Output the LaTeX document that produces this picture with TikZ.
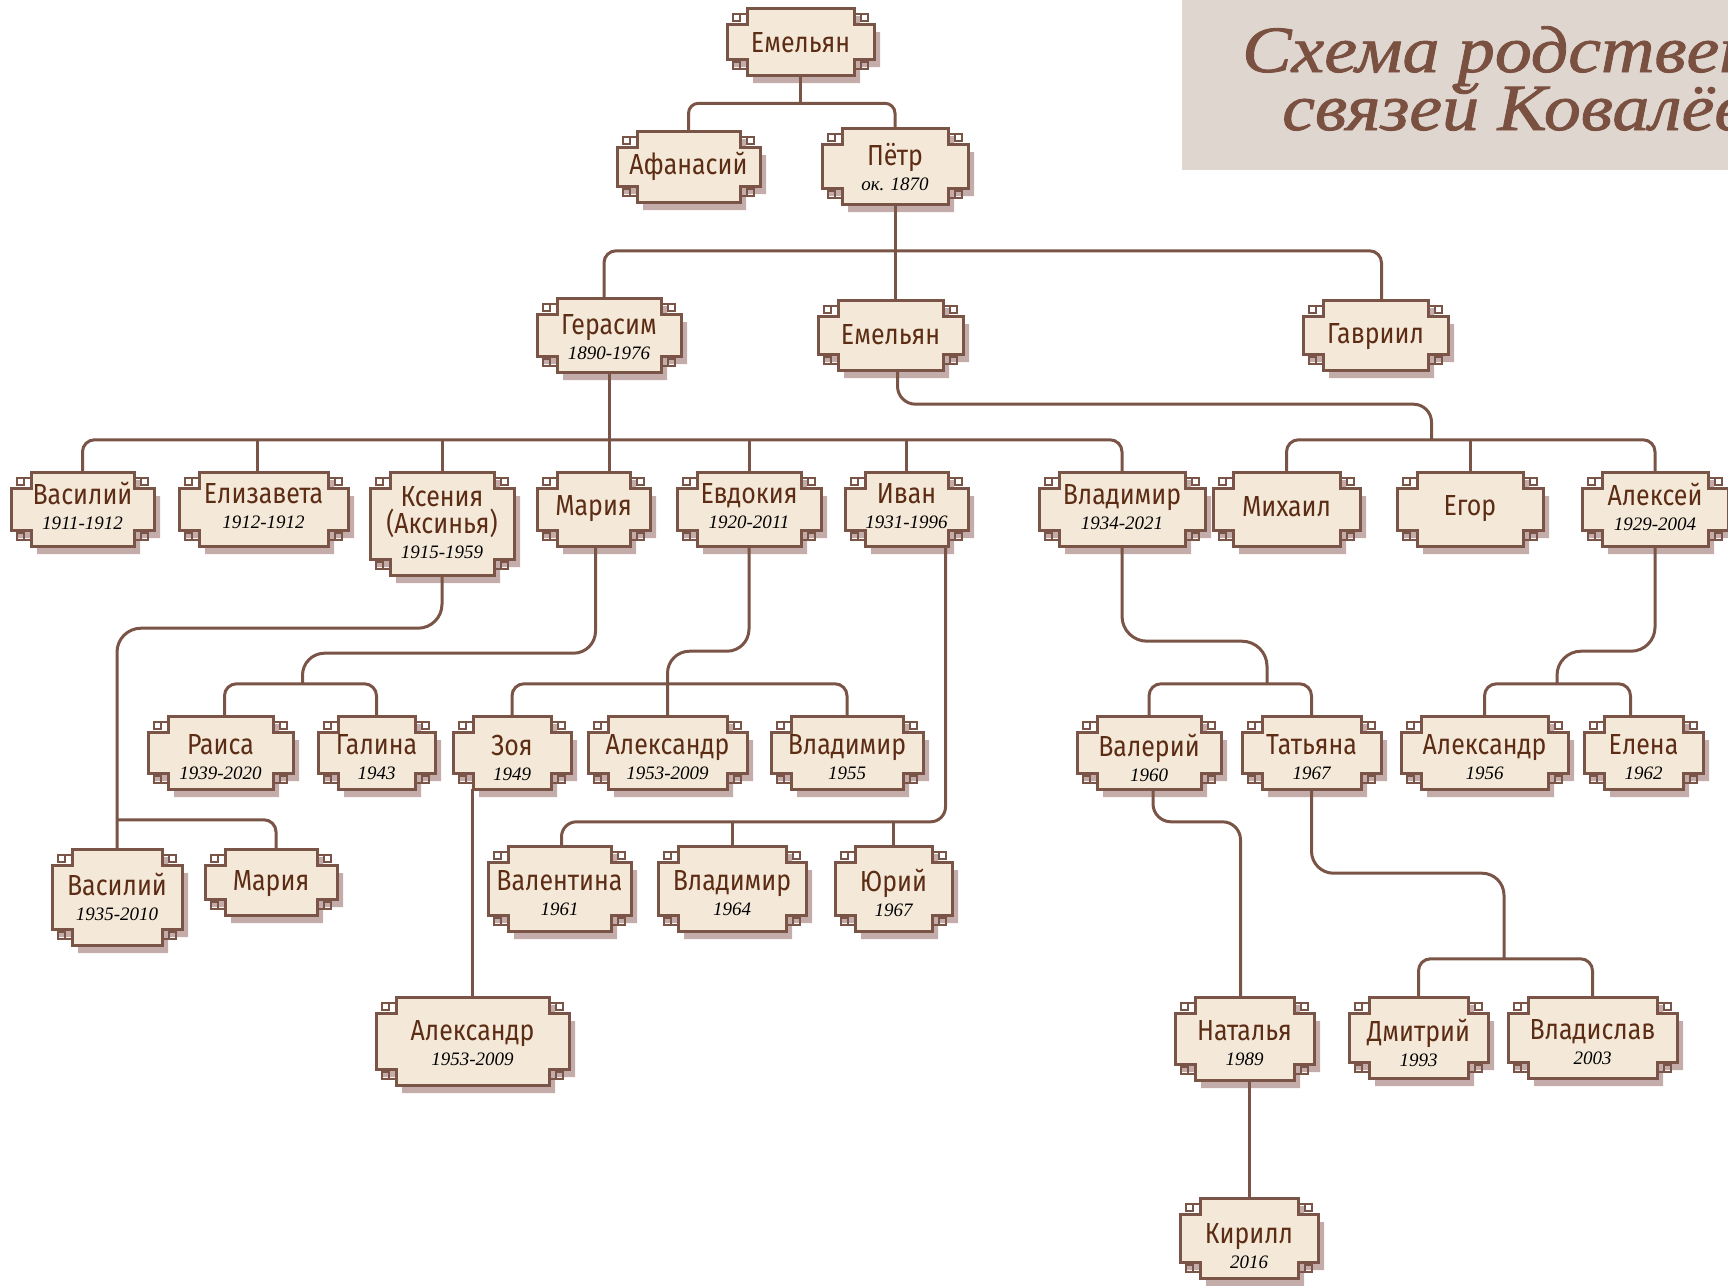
\documentclass[tikz,border=0pt]{standalone}
\usepackage{fontspec}
\newfontfamily\namefont[FakeStretch=0.86]{Fira Sans}
\newfontfamily\datefont{Liberation Serif}
\newfontfamily\titlefont[ItalicFeatures={FakeStretch=1.12,FakeBold=1.3}]{Liberation Serif}
\usetikzlibrary{calc}
\definecolor{lineb}{RGB}{122,84,70}
\definecolor{cream}{RGB}{244,232,216}
\definecolor{shad}{RGB}{196,172,170}
\definecolor{namec}{RGB}{92,44,20}
\definecolor{titlebg}{RGB}{224,214,208}
\definecolor{titlec}{RGB}{122,80,64}
\tikzset{
  framepath/.style={insert path={({-\fa+20},-\fb) -- ({\fa-20},-\fb) -- ({\fa-20},{-\fb+16}) -- (\fa,{-\fb+16}) -- (\fa,{\fb-16}) -- ({\fa-20},{\fb-16}) -- ({\fa-20},\fb) -- ({-\fa+20},\fb) -- ({-\fa+20},{\fb-16}) -- (-\fa,{\fb-16}) -- (-\fa,{-\fb+16}) -- ({-\fa+20},{-\fb+16}) -- cycle}},
  famtext/.style={inner sep=0pt, align=center, text=namec, font=\namefont\fontsize{29pt}{25pt}\selectfont},
  conn/.style={draw=lineb, line width=3pt},
  titletext/.style={anchor=base west, inner sep=0pt, text=titlec, font=\titlefont\itshape\fontsize{66pt}{66pt}\selectfont},
}
\newcommand\famframe[4]{%
  \pgfmathsetmacro\fa{#3/2}\pgfmathsetmacro\fb{#4/2}%
  \begin{scope}[shift={(#1,#2)}]
    \fill[shad, shift={(6,8)}, framepath];
    \filldraw[fill=cream, draw=lineb, line width=3pt, framepath];
    \draw[lineb, line width=2.4pt]
      ({-\fa+6},{-\fb+13}) rectangle ({-\fa+13},{-\fb+6}) ({-\fa+13},{-\fb+6}) -- ({-\fa+20},{-\fb+6})
      ({\fa-6},{-\fb+13}) rectangle ({\fa-13},{-\fb+6}) ({\fa-13},{-\fb+6}) -- ({\fa-20},{-\fb+6})
      ({-\fa+6},{\fb-13}) rectangle ({-\fa+13},{\fb-6}) ({-\fa+13},{\fb-6}) -- ({-\fa+20},{\fb-6})
      ({\fa-6},{\fb-13}) rectangle ({\fa-13},{\fb-6}) ({\fa-13},{\fb-6}) -- ({\fa-20},{\fb-6});
  \end{scope}}
% [text dy]{name}{cx}{cy}{w}{h}{text}
\newcommand\famnode[7][0]{%
  \famframe{#3}{#4}{#5}{#6}%
  \node[inner sep=0pt, minimum width=#5pt, minimum height=#6pt] (#2) at (#3,#4) {};
  \node[famtext] (#2-t) at (#3,{#4+#1}) {#7};}
\newcommand\dt[1]{\\{\datefont\itshape\fontsize{19pt}{25pt}\selectfont\color{black}#1}}
\begin{document}
\begin{tikzpicture}[x=1pt,y=-1pt]
\useasboundingbox (0,0) rectangle (1728,1285);
\begin{scope}
  \clip (0,0) rectangle (1728,1285);
  \fill[titlebg] (1182,0) rectangle (1728,170);
  \node[titletext] (t1) at (1242,72) {Схема родственных};
  \node[titletext] (t2) at (1282,130) {связей Ковалёвых};
\end{scope}

\famnode[1]{emA}{800.5}{41.5}{147}{67}{Емельян}
\famnode{afan}{688.5}{166.5}{143}{71}{Афанасий}
\famnode[1]{petr}{895}{166}{146}{76}{Пётр\dt{ок. 1870}}
\famnode[2]{gera}{609}{335}{144}{74}{Герасим\dt{1890-1976}}
\famnode{emB}{890.5}{335}{145}{70}{Емельян}
\famnode[2]{gavr}{1375.5}{335}{145}{70}{Гавриил}

\famnode[-3]{vas1}{82.5}{509}{143}{74}{Василий\dt{1911-1912}}
\famnode[-3]{eliz}{263.5}{509}{169}{74}{Елизавета\dt{1912-1912}}
\famnode[-1]{ksen}{442}{523.5}{144}{103}{Ксения\\[2pt](Аксинья)\dt{1915-1959}}
\famnode{mar1}{593.5}{509}{113}{74}{Мария}
\famnode[-3]{evdo}{749}{509}{144}{74}{Евдокия\dt{1920-2011}}
\famnode[-3]{ivan}{906.5}{509}{123}{74}{Иван\dt{1931-1996}}
\famnode[-2]{vlad1}{1122}{509}{166}{74}{Владимир\dt{1934-2021}}
\famnode[-2]{mikh}{1286.5}{509}{147}{74}{Михаил}
\famnode{egor}{1470}{509}{146}{74}{Егор}
\famnode[-2]{alek}{1655}{509}{146}{74}{Алексей\dt{1929-2004}}

\famnode[5]{raisa}{220.5}{752.5}{145}{73}{Раиса\dt{1939-2020}}
\famnode[5]{galina}{376.5}{752.5}{117}{73}{Галина\dt{1943}}
\famnode[5]{zoya}{512}{752.5}{118}{73}{Зоя\dt{1949}}
\famnode[5]{alexA}{667.5}{752.5}{159}{73}{Александр\dt{1953-2009}}
\famnode[5]{vladB}{847}{752.5}{152}{73}{Владимир\dt{1955}}
\famnode[5]{valer}{1149}{752.5}{144}{73}{Валерий\dt{1960}}
\famnode[5]{tatya}{1311.5}{752.5}{139}{73}{Татьяна\dt{1967}}
\famnode[5]{alexB}{1484.5}{752.5}{167}{73}{Александр\dt{1956}}
\famnode[5]{elena}{1643.5}{752.5}{119}{73}{Елена\dt{1962}}

\famnode{vas2}{117}{897}{130}{96}{Василий\dt{1935-2010}}
\famnode[2]{mar2}{271}{882}{132}{66}{Мария}
\famnode[5]{valen}{559.5}{888.5}{143}{85}{Валентина\dt{1961}}
\famnode[5]{vladC}{732}{888.5}{148}{85}{Владимир\dt{1964}}
\famnode[4]{yuri}{893.5}{888.5}{117}{85}{Юрий\dt{1967}}

\famnode[2]{alexC}{472.5}{1041}{193}{88}{Александр\dt{1953-2009}}
\famnode[5]{natal}{1244.5}{1038.5}{139}{83}{Наталья\dt{1989}}
\famnode[5]{dmit}{1418.5}{1037.5}{139}{81}{Дмитрий\dt{1993}}
\famnode[5]{vladi}{1592.5}{1037.5}{169}{81}{Владислав\dt{2003}}

\famnode[8]{kiril}{1249}{1238}{138}{80}{Кирилл\dt{2016}}

% connectors
\draw[conn] (emA.south) -- ++(0,28);
\draw[conn, rounded corners=10pt] (afan.north) -- ++(0,-27.5) -| (petr.north);

\draw[conn] (petr.south) -- (petr.south |- emB.north);
\draw[conn, rounded corners=12pt] ($(gera.north)+(-5,0)$) -- ++(0,-47) -| ($(gavr.north)+(6,0)$);

\draw[conn] (gera.south) -- (gera.south |- mar1.north);
\draw[conn, rounded corners=12pt] (vas1.north) -- ++(0,-32) -| (vlad1.north);
\draw[conn] ($(eliz.north)+(-6,0)$) -- ++(0,-32);
\draw[conn] (ksen.north) -- ++(0,-32);
\draw[conn] (evdo.north) -- ++(0,-32);
\draw[conn] (ivan.north) -- ++(0,-32);

\draw[conn, rounded corners=18pt] ($(emB.south)+(7,0)$) -- ++(0,34) -- ++(534,0) -- ++(0,36);
\draw[conn, rounded corners=12pt] (mikh.north) -- ++(0,-32) -| (alek.north);
\draw[conn] (egor.north) -- ++(0,-32);

\draw[conn, rounded corners=24pt] (ksen.south) -- ++(0,53) -| (vas2.north);
\draw[conn, rounded corners=12pt] ($(vas2.north)+(0,-29)$) -| ($(mar2.north)+(5,0)$);

\draw[conn, rounded corners=22pt] ($(mar1.south)+(2,0)$) -- ++(0,107) -- ++(-293,0) -- ++(0,31);
\draw[conn, rounded corners=12pt] ($(raisa.north)+(4,0)$) -- ++(0,-32) -| (galina.north);

\draw[conn, rounded corners=22pt] (evdo.south) -- ++(0,105) -| (alexA.north);
\draw[conn, rounded corners=12pt] (zoya.north) -- ++(0,-32) -| (vladB.north);

\draw[conn] (alexC.north) -- (alexC.north |- zoya.south);

\draw[conn, rounded corners=15pt] ($(ivan.south)+(39,0)$) |- ($(valen.north)+(2,-24)$) -- ($(valen.north)+(2,0)$);
\draw[conn] (vladC.north) -- ++(0,-24);
\draw[conn] (yuri.north) -- ++(0,-24);

\draw[conn, rounded corners=25pt] (vlad1.south) -- ++(0,95) -- ++(145,0) -- ++(0,43);
\draw[conn, rounded corners=12pt] (valer.north) -- ++(0,-32) -| (tatya.north);

\draw[conn, rounded corners=24pt] (alek.south) -- ++(0,105) -- ++(-98,0) -- ++(0,33);
\draw[conn, rounded corners=12pt] (alexB.north) -- ++(0,-32) -| ($(elena.north)+(-13,0)$);

\draw[conn, rounded corners=18pt] ($(valer.south)+(4,0)$) |- ($(natal.north)+(-4,-175)$) -- ($(natal.north)+(-4,0)$);

\draw[conn, rounded corners=22pt] (tatya.south) -- ++(0,84) -- ++(192.5,0) -- ++(0,86);
\draw[conn, rounded corners=12pt] (dmit.north) -- ++(0,-38) -| (vladi.north);

\draw[conn] (kiril.north |- natal.south) -- (kiril.north);
\end{tikzpicture}
\end{document}
